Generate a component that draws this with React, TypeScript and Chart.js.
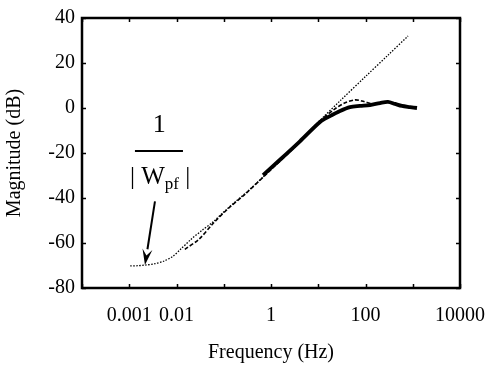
import React, { useEffect, useRef } from "react";
import { Chart, registerables } from "chart.js";

Chart.register(...registerables);

// 1/|Wpf| (dotted)
const wpfFreq = [0.00105, 0.0015, 0.0022, 0.0035, 0.0055, 0.0085, 0.0119, 0.02, 0.035, 0.059, 0.1, 0.18, 0.311, 0.55, 0.955, 1.9, 3.73, 10.9, 30, 100, 300, 794];
const wpfDb = [-70.2, -70.1, -69.8, -69.2, -68, -65.8, -63, -58.5, -54.3, -50.7, -46.2, -41.5, -37.3, -32.5, -27.6, -21.5, -15.6, -5.5, 3.5, 14, 23.5, 32];

// dashed series
const dashFreq = [0.015, 0.03, 0.06, 0.12, 0.3, 0.9, 3.7, 10.9, 22.6, 36, 60, 84, 137];
const dashDb = [-62.8, -58.3, -51.2, -45, -37.8, -28.3, -16, -5.8, -0.4, 2.2, 3.6, 3.1, 1.8];

// measured (thick solid)
const measFreq = [0.68, 1.55, 4.1, 10.9, 17.7, 28.9, 47, 76.5, 124, 203, 299, 421, 592, 875, 1230];
const measDb = [-29.8, -23, -14.8, -6.2, -3.6, -1.3, 0.4, 0.9, 1.3, 2.2, 2.7, 1.8, 0.9, 0.4, 0];

// axes
const xTickValues = [0.0001, 0.001, 0.01, 0.1, 1, 10, 100, 1000, 10000];
const xLabeledValues = [0.001, 0.01, 1, 100, 10000];
const xLabelTexts = ["0.001", "0.01", "1", "100", "10000"];
const yTickValues = [-80, -60, -40, -20, 0, 20, 40];

// annotation anchors (data coordinates)
const annoOneAt = [0.0043, -7.5];
const annoBarFrom = [0.00132, -19.1];
const annoBarTo = [0.0137, -19.1];
const annoWAt = [0.0045, -30];
const arrowFrom = [0.0035, -41.5];
const arrowTo = [0.00215, -69.8];

const SERIF = "'Liberation Serif', 'DejaVu Serif', serif";

function toXY(fs: number[], ds: number[]) {
  return fs.map((f, i) => ({ x: f, y: ds[i] }));
}

const framePlugin = {
  id: "frameAndAnno",
  afterDatasetsDraw(chart: any) {
    const { ctx, chartArea: a, scales } = chart;
    const xs = scales.x;
    const ys = scales.y;
    ctx.save();
    ctx.strokeStyle = "#000";
    ctx.fillStyle = "#000";
    ctx.lineWidth = 2.5;
    ctx.strokeRect(a.left, a.top, a.right - a.left, a.bottom - a.top);
    ctx.lineWidth = 1.5;
    const tl = 4;
    ctx.beginPath();
    xTickValues.forEach((v) => {
      const px = Math.round(xs.getPixelForValue(v)) + 0.5;
      ctx.moveTo(px, a.bottom);
      ctx.lineTo(px, a.bottom - tl);
      ctx.moveTo(px, a.top);
      ctx.lineTo(px, a.top + tl);
    });
    yTickValues.forEach((v) => {
      const py = Math.round(ys.getPixelForValue(v)) + 0.5;
      ctx.moveTo(a.left, py);
      ctx.lineTo(a.left + tl, py);
      ctx.moveTo(a.right, py);
      ctx.lineTo(a.right - tl, py);
    });
    ctx.stroke();

    // annotation: 1 / |Wpf|
    const P = (p: number[]) => [xs.getPixelForValue(p[0]), ys.getPixelForValue(p[1])];
    ctx.textAlign = "center";
    ctx.textBaseline = "middle";
    ctx.font = `26px ${SERIF}`;
    const one = P(annoOneAt);
    ctx.fillText("1", one[0], one[1]);
    const b0 = P(annoBarFrom);
    const b1 = P(annoBarTo);
    ctx.lineWidth = 2;
    ctx.beginPath();
    ctx.moveTo(b0[0], b0[1]);
    ctx.lineTo(b1[0], b1[1]);
    ctx.stroke();

    const w = P(annoWAt);
    const mainFont = `25px ${SERIF}`;
    const subFont = `17px ${SERIF}`;
    const partA = "| W";
    const partB = "pf";
    const partC = " |";
    ctx.font = mainFont;
    const wa = ctx.measureText(partA).width;
    const wc = ctx.measureText(partC).width;
    ctx.font = subFont;
    const wb = ctx.measureText(partB).width;
    const total = wa + wb + wc;
    let cx = w[0] - total / 2;
    ctx.textAlign = "left";
    ctx.textBaseline = "alphabetic";
    ctx.font = mainFont;
    ctx.fillText(partA, cx, w[1] + 8);
    cx += wa;
    ctx.font = subFont;
    ctx.fillText(partB, cx, w[1] + 13);
    cx += wb;
    ctx.font = mainFont;
    ctx.fillText(partC, cx, w[1] + 8);

    // arrow
    const s = P(arrowFrom);
    const e = P(arrowTo);
    ctx.lineWidth = 2;
    const ang = Math.atan2(e[1] - s[1], e[0] - s[0]);
    const hl = 16;
    const hw = 5;
    const bx = e[0] - hl * Math.cos(ang);
    const by = e[1] - hl * Math.sin(ang);
    ctx.beginPath();
    ctx.moveTo(s[0], s[1]);
    ctx.lineTo(bx, by);
    ctx.stroke();
    ctx.beginPath();
    ctx.moveTo(e[0], e[1]);
    ctx.lineTo(bx + hw * Math.sin(ang), by - hw * Math.cos(ang));
    ctx.lineTo(bx + 0.4 * hl * Math.cos(ang), by + 0.4 * hl * Math.sin(ang));
    ctx.lineTo(bx - hw * Math.sin(ang), by + hw * Math.cos(ang));
    ctx.closePath();
    ctx.fill();
    ctx.restore();
  },
};

export default function App() {
  const ref = useRef<HTMLCanvasElement | null>(null);
  useEffect(() => {
    if (!ref.current) return;
    Chart.defaults.color = "#000";
    const chart = new Chart(ref.current, {
      type: "line",
      data: {
        datasets: [
          {
            label: "1/|Wpf|",
            data: toXY(wpfFreq, wpfDb),
            borderColor: "#000",
            borderWidth: 1.3,
            borderDash: [1.5, 1.5],
            pointRadius: 0,
            tension: 0.3,
            fill: false,
          },
          {
            label: "model",
            data: toXY(dashFreq, dashDb),
            borderColor: "#000",
            borderWidth: 1.6,
            borderDash: [4, 2],
            pointRadius: 0,
            tension: 0.3,
            fill: false,
          },
          {
            label: "measured",
            data: toXY(measFreq, measDb),
            borderColor: "#000",
            borderWidth: 3.8,
            pointRadius: 0,
            tension: 0.3,
            fill: false,
          },
        ],
      },
      options: {
        responsive: false,
        animation: false,
        events: [],
        layout: { padding: { top: 18, right: 32, left: 0, bottom: 0 } },
        plugins: { legend: { display: false }, tooltip: { enabled: false } },
        scales: {
          x: {
            type: "logarithmic",
            min: 0.0001,
            max: 10000,
            grid: { display: false, drawTicks: false },
            border: { display: false },
            afterBuildTicks: (s: any) => {
              s.ticks = xTickValues.map((v) => ({ value: v }));
            },
            afterFit: (s: any) => {
              s.height = 83;
              s.paddingLeft = 0;
              s.paddingRight = 0;
            },
            ticks: {
              autoSkip: false,
              maxRotation: 0,
              padding: 16,
              font: { family: SERIF, size: 20 },
              color: "#000",
              callback: (value: any) => {
                const v = Number(value);
                const i = xLabeledValues.findIndex((t) => Math.abs(Math.log10(t) - Math.log10(v)) < 1e-6);
                return i >= 0 ? xLabelTexts[i] : "";
              },
            },
            title: {
              display: true,
              text: "Frequency (Hz)",
              font: { family: SERIF, size: 20 },
              color: "#000",
              padding: { top: 0, bottom: 6 },
            },
          },
          y: {
            type: "linear",
            min: -80,
            max: 40,
            grid: { display: false, drawTicks: false },
            border: { display: false },
            afterBuildTicks: (s: any) => {
              s.ticks = yTickValues.map((v) => ({ value: v }));
            },
            afterFit: (s: any) => {
              s.width = 82;
              s.paddingTop = 0;
              s.paddingBottom = 0;
            },
            ticks: {
              padding: 7,
              font: { family: SERIF, size: 20 },
              color: "#000",
            },
            title: {
              display: true,
              text: "Magnitude (dB)",
              font: { family: SERIF, size: 20 },
              color: "#000",
              padding: { top: 3, bottom: 0 },
            },
          },
        },
      },
      plugins: [framePlugin],
    });
    return () => chart.destroy();
  }, []);
  return (
    <div style={{ position: "fixed", left: 0, top: 0, width: 492, height: 371, background: "#fff" }}>
      <canvas ref={ref} width={492} height={371} style={{ display: "block" }} />
    </div>
  );
}
